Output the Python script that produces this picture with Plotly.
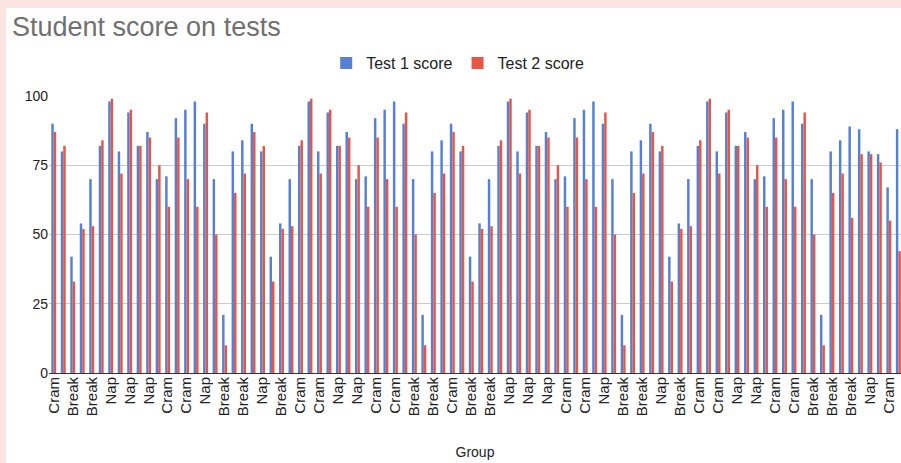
import plotly.graph_objects as go

groups = [
    "Cram", "Nap", "Break", "Break", "Break", "Cram", "Nap", "Cram", "Nap", "Nap", "Nap",
    "Nap", "Cram", "Cram", "Cram", "Cram", "Nap", "Break", "Break", "Break", "Break",
    "Cram", "Nap", "Break", "Break", "Break", "Cram", "Nap", "Cram", "Nap", "Nap", "Nap",
    "Nap", "Cram", "Cram", "Cram", "Cram", "Nap", "Break", "Break", "Break", "Break",
    "Cram", "Nap", "Break", "Break", "Break", "Cram", "Nap", "Cram", "Nap", "Nap", "Nap",
    "Nap", "Cram", "Cram", "Cram", "Cram", "Nap", "Break", "Break", "Break", "Break",
    "Cram", "Nap", "Break", "Break", "Break", "Cram", "Nap", "Cram", "Nap", "Nap", "Nap",
    "Nap", "Cram", "Cram", "Cram", "Cram", "Nap", "Break", "Break", "Break", "Break",
    "Break", "Break", "Nap", "Nap", "Cram", "Cram",
]

test1 = [
    90, 80, 42, 54, 70, 82, 98, 80, 94, 82, 87, 70, 71, 92, 95, 98, 90, 70, 21, 80, 84,
    90, 80, 42, 54, 70, 82, 98, 80, 94, 82, 87, 70, 71, 92, 95, 98, 90, 70, 21, 80, 84,
    90, 80, 42, 54, 70, 82, 98, 80, 94, 82, 87, 70, 71, 92, 95, 98, 90, 70, 21, 80, 84,
    90, 80, 42, 54, 70, 82, 98, 80, 94, 82, 87, 70, 71, 92, 95, 98, 90, 70, 21, 80, 84,
    89, 88, 80, 79, 67, 88,
]

test2 = [
    87, 82, 33, 52, 53, 84, 99, 72, 95, 82, 85, 75, 60, 85, 70, 60, 94, 50, 10, 65, 72,
    87, 82, 33, 52, 53, 84, 99, 72, 95, 82, 85, 75, 60, 85, 70, 60, 94, 50, 10, 65, 72,
    87, 82, 33, 52, 53, 84, 99, 72, 95, 82, 85, 75, 60, 85, 70, 60, 94, 50, 10, 65, 72,
    87, 82, 33, 52, 53, 84, 99, 72, 95, 82, 85, 75, 60, 85, 70, 60, 94, 50, 10, 65, 72,
    56, 79, 79, 76, 55, 44,
]

series_names = ["Test 1 score", "Test 2 score"]
y_ticks = [0, 25, 50, 75, 100]

W, H = 901, 463
L, R, T, B = 49, 0, 96, 90
FONT = "Liberation Sans, Arial, sans-serif"

pos = list(range(len(groups)))

fig = go.Figure()
fig.add_trace(go.Bar(x=pos, y=test1, name=series_names[0], marker=dict(color="#5580d6", line=dict(width=0))))
fig.add_trace(go.Bar(x=pos, y=test2, name=series_names[1], marker=dict(color="#e65646", line=dict(width=0))))

pw = W - L - R
ph = H - T - B
fig.add_shape(type="rect", xref="paper", yref="paper", layer="below",
              x0=(6 - L) / pw, x1=1.01, y0=-(B + 5) / ph, y1=(H - B - 8) / ph,
              fillcolor="white", line=dict(width=0))

fig.update_layout(
    width=W, height=H,
    margin=dict(l=L, r=R, t=T, b=B, pad=0),
    paper_bgcolor="#fce4e2",
    plot_bgcolor="white",
    barmode="group",
    bargap=0.48,
    bargroupgap=0.0,
    font=dict(family=FONT, color="#222222"),
    title=dict(text="Student score on tests", x=12 / W, xanchor="left", xref="container",
               y=1 - 27 / H, yanchor="middle", yref="container",
               font=dict(size=27, color="#707070", family=FONT)),
    legend=dict(orientation="h", xref="container", yref="container",
                x=0.508, xanchor="center", y=1 - 63 / H, yanchor="middle",
                font=dict(size=16, color="#222222"), itemwidth=30,
                bgcolor="rgba(0,0,0,0)"),
    xaxis=dict(range=[-0.5, 89.28], tickvals=pos[::2], ticktext=groups[::2],
               tickangle=-90, tickfont=dict(size=15, color="#222222"),
               showgrid=False, showline=False, zeroline=False, ticks="",
               title=dict(text="Group", font=dict(size=14, color="#222222"), standoff=32)),
    yaxis=dict(range=[0, 100], tickvals=y_ticks, tickfont=dict(size=14, color="#222222"),
               gridcolor="#cccccc", gridwidth=1, zeroline=True, zerolinecolor="#333333",
               zerolinewidth=1, showline=False, ticks=""),
)

fig.write_html("out.html")
